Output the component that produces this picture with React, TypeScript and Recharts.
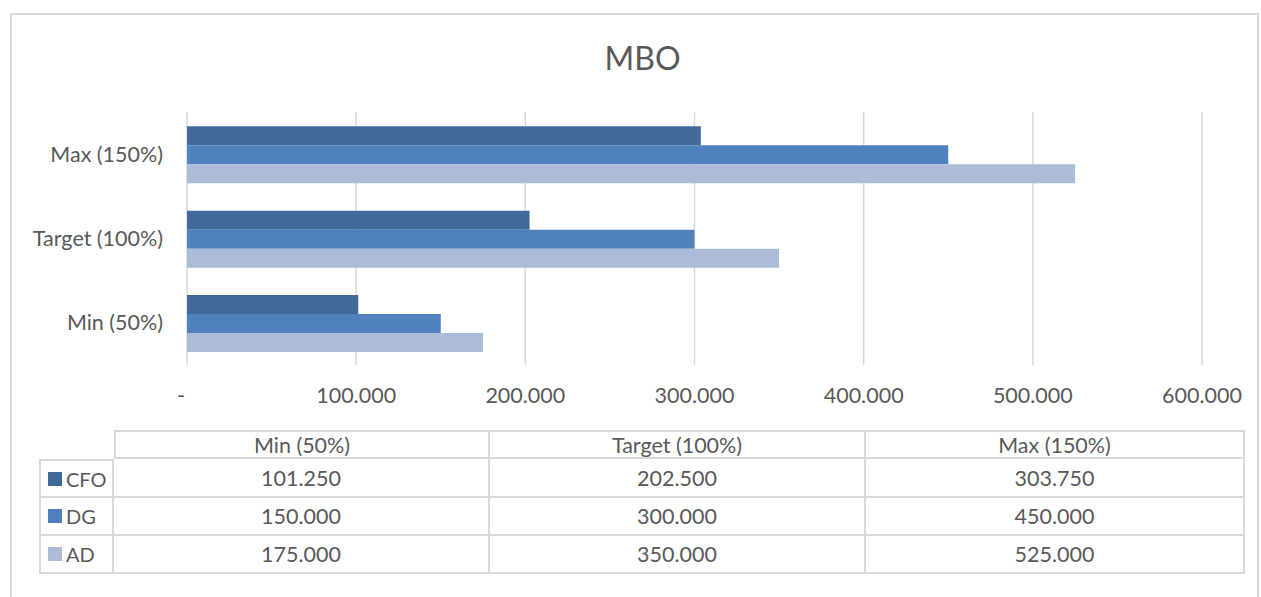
import { Bar, BarChart, CartesianGrid, XAxis, YAxis } from "recharts";

const CATEGORIES = ["Min (50%)", "Target (100%)", "Max (150%)"];
const SERIES = ["CFO", "DG", "AD"];
const CFO = [101250, 202500, 303750];
const DG = [150000, 300000, 450000];
const AD = [175000, 350000, 525000];
const X_TICKS = [0, 100000, 200000, 300000, 400000, 500000, 600000];

const VALUES: Record<string, number[]> = { CFO, DG, AD };
const COLORS: Record<string, string> = {
  CFO: "#416a9b",
  DG: "#4f81bd",
  AD: "#abbbd8",
};

const FONT = "Lato, 'Open Sans', sans-serif";
const TEXT = "#595959";
const LINE = "#d9d9d9";
const FS = 21.5;

// Excel-style "100.000", zero shown as a dash
function fmt(v: number): string {
  if (v === 0) return "-";
  return String(v).replace(/\B(?=(\d{3})+(?!\d))/g, ".");
}

const data = CATEGORIES.map((name, i) => {
  const row: Record<string, string | number> = { name };
  for (const s of SERIES) row[s] = VALUES[s][i];
  return row;
});

function XTick(props: any) {
  const { x, y, payload } = props;
  const v = Number(payload.value);
  return (
    <text
      x={v === 0 ? x - 6 : x}
      y={y}
      dy={23}
      textAnchor="middle"
      fill={TEXT}
      fontSize={FS}
      fontFamily={FONT}
    >
      {fmt(v)}
    </text>
  );
}

function YTick(props: any) {
  const { x, y, payload } = props;
  return (
    <text
      x={x}
      y={y}
      dy={7.5}
      textAnchor="end"
      fill={TEXT}
      fontSize={FS}
      fontFamily={FONT}
    >
      {payload.value}
    </text>
  );
}

const cell = {
  borderRight: `2px solid ${LINE}`,
  borderBottom: `2px solid ${LINE}`,
  boxSizing: "border-box" as const,
  display: "flex",
  alignItems: "center",
  justifyContent: "center",
  color: TEXT,
  fontSize: FS,
  fontFamily: FONT,
};

export default function App() {
  return (
    <div
      style={{
        position: "absolute",
        left: 0,
        top: 0,
        width: 1261,
        height: 597,
        background: "#fff",
        overflow: "hidden",
      }}
    >
      <div
        style={{
          position: "absolute",
          left: 10,
          top: 13,
          width: 1249,
          height: 640,
          border: `2px solid ${LINE}`,
          boxSizing: "border-box",
        }}
      />
      <div
        style={{
          position: "absolute",
          left: 0,
          top: 38,
          width: 1285,
          textAlign: "center",
          fontFamily: FONT,
          fontSize: 32,
          color: TEXT,
        }}
      >
        MBO
      </div>
      <div style={{ position: "absolute", left: 0, top: 0 }}>
        <BarChart
          width={1261}
          height={420}
          data={data}
          layout="vertical"
          margin={{ top: 112, right: 59, bottom: 25, left: 10 }}
          barCategoryGap="17%"
          barGap={0}
        >
          <CartesianGrid horizontal={false} stroke={LINE} strokeWidth={1.5} />
          <XAxis
            type="number"
            domain={[0, 600000]}
            ticks={X_TICKS}
            axisLine={false}
            tickLine={false}
            tickSize={0}
            tickMargin={15}
            height={30}
            tick={<XTick />}
          />
          <YAxis
            type="category"
            dataKey="name"
            reversed
            width={177}
            axisLine={false}
            tickLine={false}
            tickSize={0}
            tickMargin={24}
            tick={<YTick />}
          />
          {SERIES.map((s) => (
            <Bar
              key={s}
              dataKey={s}
              fill={COLORS[s]}
              isAnimationActive={false}
            />
          ))}
        </BarChart>
      </div>
      {/* data table */}
      <div style={{ position: "absolute", left: 39, top: 430 }}>
        <div style={{ display: "flex", marginLeft: 75 }}>
          {CATEGORIES.map((c, i) => (
            <div
              key={c}
              style={{
                ...cell,
                width: i === 2 ? 379 : 376,
                height: 29,
                borderTop: `2px solid ${LINE}`,
                borderLeft: i === 0 ? `2px solid ${LINE}` : undefined,
              }}
            >
              {c}
            </div>
          ))}
        </div>
        {SERIES.map((s, r) => (
          <div key={s} style={{ display: "flex" }}>
            <div
              style={{
                ...cell,
                width: 75,
                height: r === 0 ? 39 : 38,
                borderLeft: `2px solid ${LINE}`,
                borderTop: r === 0 ? `2px solid ${LINE}` : undefined,
                justifyContent: "flex-start",
                paddingLeft: 7,
                fontSize: 20,
              }}
            >
              <span
                style={{
                  display: "inline-block",
                  width: 14,
                  height: 14,
                  background: COLORS[s],
                  marginRight: 4,
                }}
              />
              {s}
            </div>
            {VALUES[s].map((v, i) => (
              <div
                key={i}
                style={{
                  ...cell,
                  width: i === 2 ? 379 : 376,
                  height: r === 0 ? 39 : 38,
                }}
              >
                {fmt(v)}
              </div>
            ))}
          </div>
        ))}
      </div>
    </div>
  );
}
